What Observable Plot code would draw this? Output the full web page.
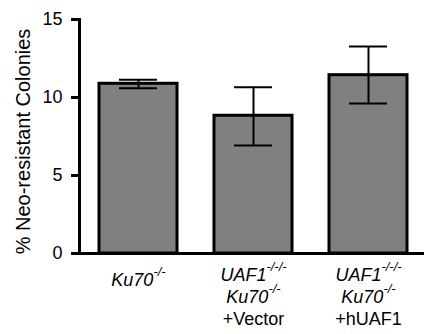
<!DOCTYPE html>
<html>
<head>
<meta charset="utf-8">
<script src="https://cdn.jsdelivr.net/npm/d3@7"></script>
<script src="https://cdn.jsdelivr.net/npm/@observablehq/plot@0.6"></script>
<style>
  html, body { margin: 0; padding: 0; background: #fff; }
</style>
</head>
<body>
<div id="chart"></div>
<script>
// Categories (x) and their label lines ("^" marks a superscript)
const groups = ["Ku70", "UAF1 Ku70 +Vector", "UAF1 Ku70 +hUAF1"];
const groupLabels = [
  ["Ku70^-/-"],
  ["UAF1^-/-/-", "Ku70^-/-", "+Vector"],
  ["UAF1^-/-/-", "Ku70^-/-", "+hUAF1"]
];
// % Neo-resistant colonies (mean) and error bar ends
const means = [10.88, 8.83, 11.43];
const errLow = [10.60, 6.92, 9.62];
const errHigh = [11.14, 10.66, 13.27];
const yTicks = [0, 5, 10, 15];
const yLabel = "% Neo-resistant Colonies";

const data = groups.map((g, i) => ({group: g, mean: means[i], lo: errLow[i], hi: errHigh[i]}));
const labelOf = new Map(groups.map((g, i) => [g, groupLabels[i].join("\n")]));

const font = "'Liberation Sans', Arial, sans-serif";

const chart = Plot.plot({
  width: 424,
  height: 334,
  marginLeft: 79,
  marginRight: 0,
  marginTop: 19,
  marginBottom: 81,
  style: {fontFamily: font, color: "#000", background: "#fff"},
  x: {domain: groups, range: [79, 428], paddingInner: 0.32, paddingOuter: 0.172},
  y: {domain: [0, 15]},
  marks: [
    Plot.barY(data, {x: "group", y: "mean", fill: "#808080", stroke: "#000", strokeWidth: 3}),
    Plot.ruleX(data, {x: "group", y1: "lo", y2: "hi", stroke: "#000", strokeWidth: 2}),
    Plot.tickY(data, {x: "group", y: "lo", stroke: "#000", strokeWidth: 2, insetLeft: 20, insetRight: 20}),
    Plot.tickY(data, {x: "group", y: "hi", stroke: "#000", strokeWidth: 2, insetLeft: 20, insetRight: 20}),
    Plot.frame({anchor: "left", stroke: "#000", strokeWidth: 3}),
    Plot.ruleY([0], {stroke: "#000", strokeWidth: 3}),
    Plot.axisY({ticks: yTicks, tickSize: 8, tickPadding: 9, strokeWidth: 3, fontSize: 18,
      label: yLabel, labelAnchor: "center", labelArrow: "none", labelOffset: 64}),
    Plot.axisX({tickSize: 0, tickPadding: 12, fontSize: 18, lineHeight: 1.22, label: null,
      tickFormat: d => labelOf.get(d)})
  ]
});

// Rich text: italics and superscripts for genotype labels
const svg = d3.select(chart.tagName === "svg" ? chart : chart.querySelector("svg"));
function styleLine(el) {
  const s = el.textContent;
  const italic = !s.startsWith("+");
  el.setAttribute("font-style", italic ? "italic" : "normal");
  if (s.includes("^")) {
    const [base, sup] = s.split("^");
    el.textContent = base;
    const t = document.createElementNS("http://www.w3.org/2000/svg", "tspan");
    t.setAttribute("font-size", "13");
    t.setAttribute("baseline-shift", "10");
    t.textContent = sup;
    el.appendChild(t);
  }
}
svg.selectAll('g[aria-label="x-axis tick label"] text').each(function() {
  const spans = this.querySelectorAll("tspan");
  if (spans.length) spans.forEach(styleLine);
  else {
    styleLine(this);
    const tr = this.getAttribute("transform") || "";
    this.setAttribute("transform", (tr + " translate(0,5)").trim());
  }
});
svg.selectAll('g[aria-label="y-axis label"] text').attr("font-size", 20).attr("dx", -5);

document.getElementById("chart").appendChild(chart);
</script>
</body>
</html>
